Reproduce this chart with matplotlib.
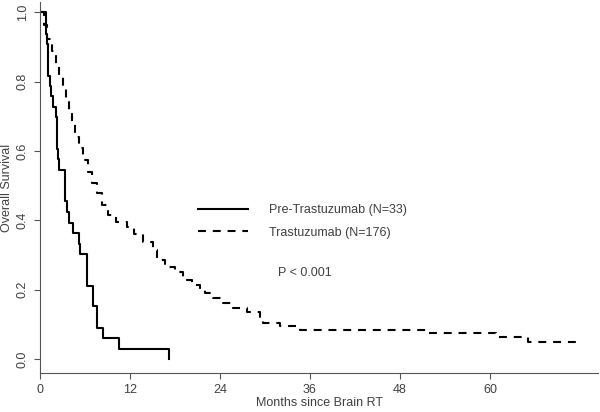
#!/usr/bin/env python3
"""Kaplan-Meier style survival curves: overall survival after brain RT"""

import matplotlib
matplotlib.use('Agg')
import matplotlib.pyplot as plt

# Pre-trastuzumab era (N=33): step times (months) and survival after each step
pre_times = [0, 0.8, 0.85, 0.9, 1.0, 1.05, 1.1, 1.3, 1.5, 1.7, 2.1, 2.2, 2.25,
             2.3, 2.4, 2.5, 3.35, 3.55, 3.9, 4.4, 5.2, 5.35, 6.2, 7.1, 7.6,
             8.4, 10.5, 17.2]
pre_surv = [1.0, 0.970, 0.939, 0.909, 0.879, 0.848, 0.818, 0.788, 0.758,
            0.727, 0.697, 0.667, 0.636, 0.606, 0.576, 0.545, 0.455, 0.424,
            0.394, 0.364, 0.333, 0.303, 0.212, 0.152, 0.091, 0.061, 0.030,
            0.0]

# Trastuzumab era (N=176)
tra_times = [0, 0.53, 0.97, 1.56, 2.13, 2.57, 3.03, 3.47, 3.85, 4.23, 4.67,
             5.24, 5.77, 6.44, 6.9, 7.56, 8.23, 9.1, 10.2, 11.56, 12.5, 13.7,
             15.1, 15.6, 16.7, 18.0, 19.1, 20.3, 21.3, 22.0, 23.1, 24.4, 25.7,
             27.6, 29.3, 29.7, 32.0, 34.7, 51.7, 60.8, 65.1, 72.0]
tra_surv = [1.0, 0.963, 0.924, 0.89, 0.852, 0.818, 0.78, 0.741, 0.71, 0.68,
            0.64, 0.608, 0.573, 0.54, 0.507, 0.478, 0.444, 0.415, 0.396,
            0.381, 0.36, 0.337, 0.314, 0.285, 0.265, 0.25, 0.228, 0.213,
            0.199, 0.19, 0.176, 0.161, 0.147, 0.135, 0.121, 0.104, 0.095,
            0.084, 0.075, 0.063, 0.049, 0.049]

labels = ['Pre-Trastuzumab (N=33)', 'Trastuzumab (N=176)']
x_ticks = [0, 12, 24, 36, 48, 60]
y_ticks = [0.0, 0.2, 0.4, 0.6, 0.8, 1.0]

text_col = '#404040'
axis_col = '#555555'

plt.rcParams['font.family'] = ['Liberation Sans', 'DejaVu Sans']

fig = plt.figure(figsize=(6.0, 4.12), dpi=100)
ax = fig.add_axes([40 / 600, 39 / 412, 558 / 600, 371 / 412])

ax.step(pre_times, pre_surv, where='post', color='black', lw=1.5,
        label=labels[0])
ax.step(tra_times, tra_surv, where='post', color='black', lw=1.5,
        linestyle=(0, (3.8, 3.3)), label=labels[1])

ax.set_xlim(0, 74.4)
ax.set_ylim(-0.04, 1.03)

for side in ['top', 'right']:
    ax.spines[side].set_visible(False)
for side in ['left', 'bottom']:
    ax.spines[side].set_color(axis_col)
    ax.spines[side].set_linewidth(0.8)

ax.set_xticks(x_ticks)
ax.set_xticklabels([str(t) for t in x_ticks])
ax.set_yticks(y_ticks)
ax.set_yticklabels([f'{v:.1f}' for v in y_ticks], rotation=90, va='center')
ax.tick_params(axis='both', direction='out', length=4, width=0.8,
               color=axis_col, labelcolor=text_col, labelsize=9, pad=4)

ax.set_xlabel('Months since Brain RT', fontsize=9, color=text_col, labelpad=1)
ax.set_ylabel('Overall Survival', fontsize=9, color=text_col)
ax.yaxis.set_label_coords(-27 / 558, 0.5)

leg = ax.legend(loc='upper left', bbox_to_anchor=(158 / 558, 1 - 202 / 371),
                frameon=False, fontsize=9, handlelength=4.0,
                handletextpad=1.7, labelspacing=0.85, borderpad=0,
                borderaxespad=0)
for txt in leg.get_texts():
    txt.set_color(text_col)

ax.text(238 / 558, 1 - 271 / 371, 'P < 0.001',
        transform=ax.transAxes, fontsize=9, color=text_col,
        ha='left', va='center')

plt.savefig('out.png', dpi=100)
plt.close()
print('Saved out.png')
